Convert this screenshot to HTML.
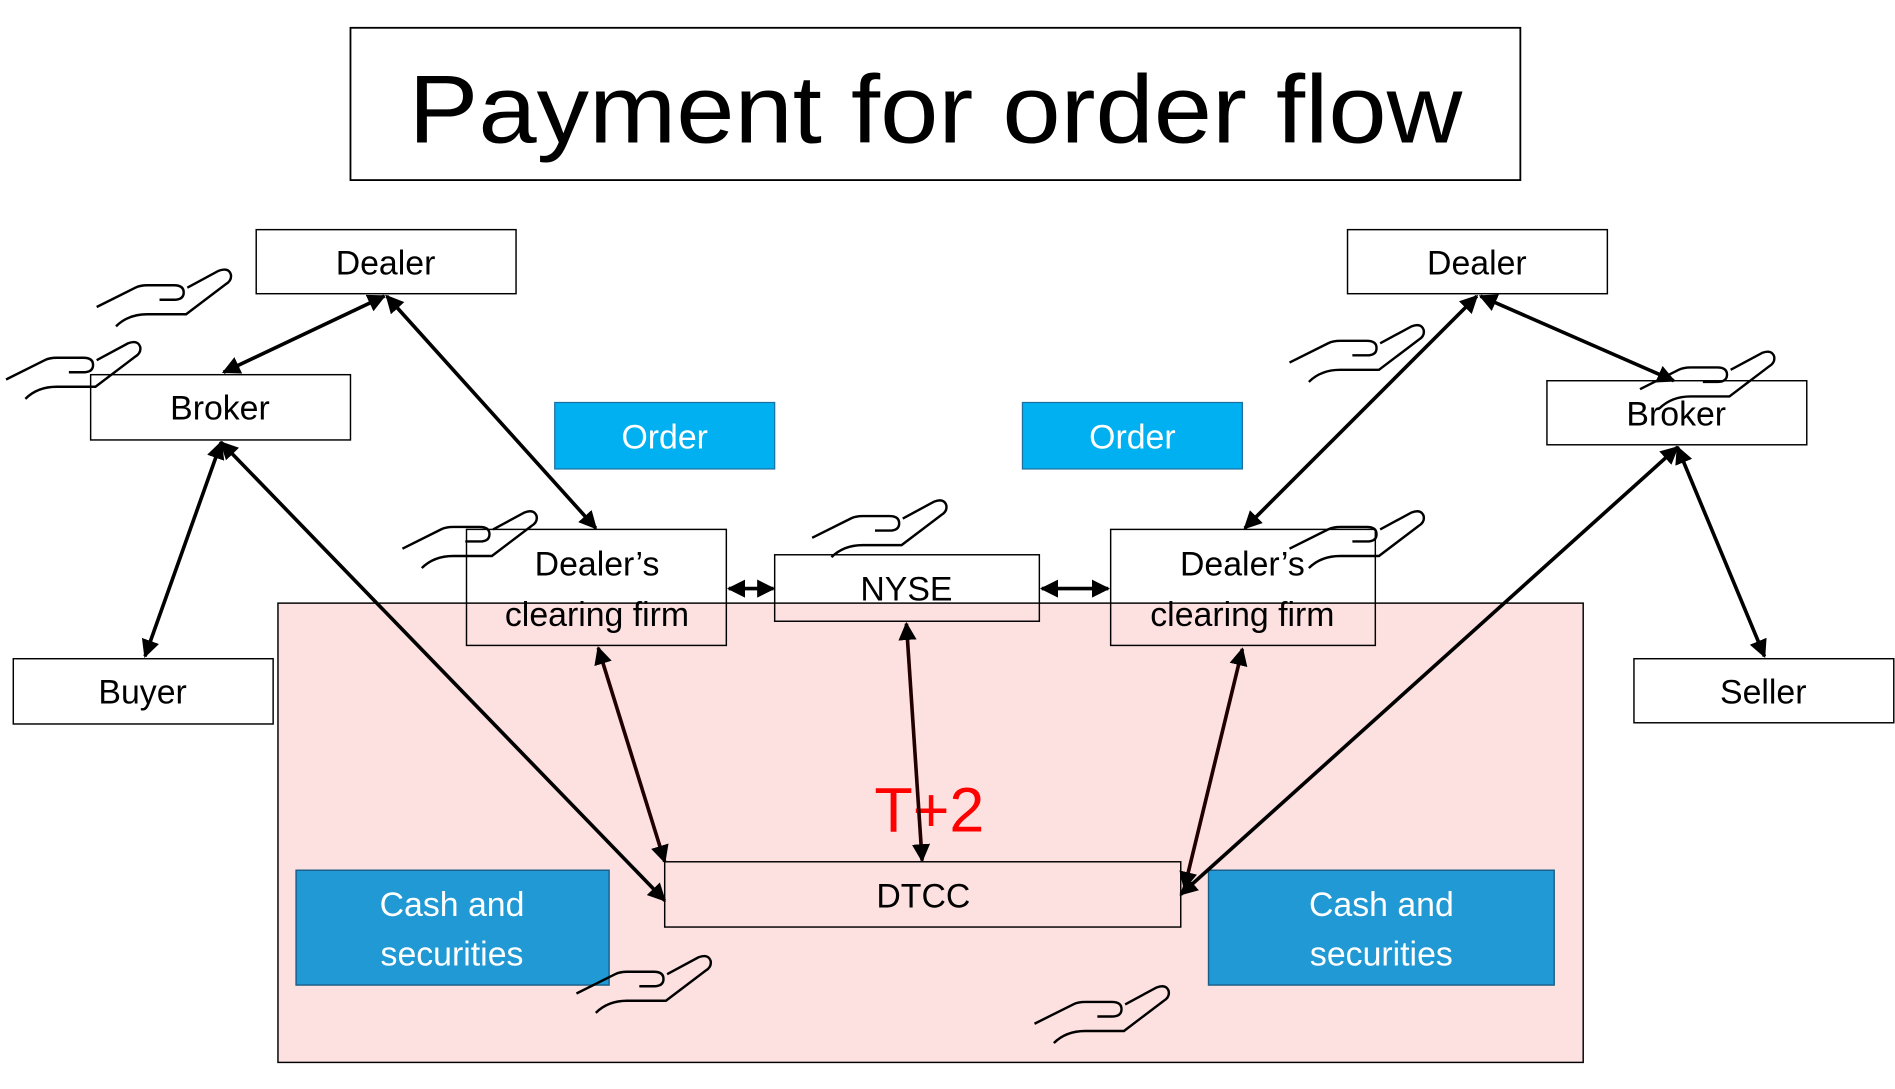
<!DOCTYPE html>
<html><head><meta charset="utf-8"><style>
html,body{margin:0;padding:0;background:#fff;}
svg{display:block;}
text{font-family:"Liberation Sans",sans-serif;}
</style></head><body>
<svg width="1895" height="1089" viewBox="0 0 1568 901" preserveAspectRatio="none" xmlns="http://www.w3.org/2000/svg">
<defs>
<marker id="a" viewBox="0 0 10 10" refX="9" refY="5" markerWidth="5" markerHeight="5" orient="auto-start-reverse"><path d="M0,0 L10,5 L0,10 z" fill="#000"/></marker>
<g id="hand" fill="none" stroke="#000" stroke-width="2">
<path d="M0,32 L32,16 Q36,14 42,14 L64,14 Q72,14 72,20 Q72,26 64,26 L52,26"/>
<path d="M75,16 L101,2 Q109,-1 111,5 Q112,10 107,13 L74,38 L42,38 Q26,38 16,48"/>
</g>
</defs>
<rect width="1568" height="901" fill="#fff"/>
<rect x="290" y="23" width="968" height="126" fill="#fff" stroke="#000" stroke-width="1.5"/>
<text x="774" y="118" font-size="80" text-anchor="middle" textLength="872" lengthAdjust="spacingAndGlyphs">Payment for order flow</text>

<rect x="230" y="499" width="1080" height="380" fill="#fde0e0" stroke="#000" stroke-width="1.2"/>

<g fill="none" stroke="#000" stroke-width="1.2">
<rect x="212" y="190" width="215" height="53" fill="#fff"/>
<rect x="75" y="310" width="215" height="54" fill="#fff"/>
<rect x="11" y="545" width="215" height="54" fill="#fff"/>
<rect x="386" y="438" width="215" height="96"/>
<rect x="641" y="459" width="219" height="55"/>
<rect x="919" y="438" width="219" height="96"/>
<rect x="1115" y="190" width="215" height="53" fill="#fff"/>
<rect x="1280" y="315" width="215" height="53" fill="#fff"/>
<rect x="1352" y="545" width="215" height="53" fill="#fff"/>
<rect x="550" y="713" width="427" height="54"/>
</g>
<rect x="459" y="333" width="182" height="55" fill="#00b0f0" stroke="#1a6fa0" stroke-width="1"/>
<rect x="846" y="333" width="182" height="55" fill="#00b0f0" stroke="#1a6fa0" stroke-width="1"/>
<rect x="245" y="720" width="259" height="95" fill="#2199d4" stroke="#1a5f8a" stroke-width="1.2"/>
<rect x="1000" y="720" width="286" height="95" fill="#2199d4" stroke="#1a5f8a" stroke-width="1.2"/>

<g font-size="28" text-anchor="middle" fill="#000">
<text x="319" y="227">Dealer</text>
<text x="182" y="347">Broker</text>
<text x="118" y="582">Buyer</text>
<text x="494" y="476">Dealer’s</text>
<text x="494" y="518">clearing firm</text>
<text x="750" y="497">NYSE</text>
<text x="1028" y="476">Dealer’s</text>
<text x="1028" y="518">clearing firm</text>
<text x="1222" y="227">Dealer</text>
<text x="1387" y="352">Broker</text>
<text x="1459" y="582">Seller</text>
<text x="764" y="751">DTCC</text>
</g>
<g font-size="28" text-anchor="middle" fill="#fff">
<text x="550" y="371">Order</text>
<text x="937" y="371">Order</text>
<text x="374" y="758">Cash and</text>
<text x="374" y="799">securities</text>
<text x="1143" y="758">Cash and</text>
<text x="1143" y="799">securities</text>
</g>
<text x="769" y="688" font-size="52" fill="#f00" text-anchor="middle">T+2</text>

<g stroke="#000" stroke-width="3" marker-start="url(#a)" marker-end="url(#a)" fill="none">
<line x1="318" y1="245" x2="185" y2="308"/>
<line x1="320" y1="245" x2="493" y2="437"/>
<line x1="183" y1="366" x2="120" y2="543"/>
<line x1="183" y1="366" x2="550" y2="745"/>
<line x1="495" y1="536" x2="550" y2="713" stroke="#200"/>
<line x1="603" y1="487" x2="640" y2="487"/>
<line x1="750" y1="516" x2="763" y2="712" stroke="#200"/>
<line x1="862" y1="487" x2="917" y2="487"/>
<line x1="1028" y1="537" x2="980" y2="735" stroke="#200"/>
<line x1="1222" y1="245" x2="1030" y2="437"/>
<line x1="1225" y1="245" x2="1385" y2="315"/>
<line x1="1388" y1="370" x2="1460" y2="543"/>
<line x1="1388" y1="370" x2="977" y2="740"/>
</g>

<use href="#hand" x="80" y="222"/>
<use href="#hand" x="5" y="282"/>
<use href="#hand" x="333" y="422"/>
<use href="#hand" x="672" y="413"/>
<use href="#hand" x="1067" y="268"/>
<use href="#hand" x="1357" y="290"/>
<use href="#hand" x="1067" y="422"/>
<use href="#hand" x="477" y="790"/>
<use href="#hand" x="856" y="815"/>
</svg>
</body></html>
